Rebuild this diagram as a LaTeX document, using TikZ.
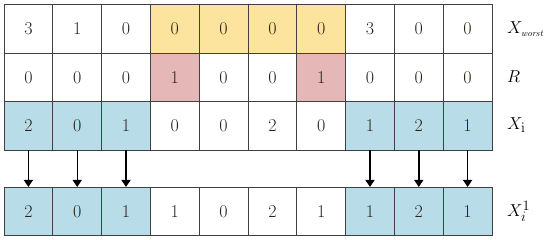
\documentclass[tikz,border=0pt]{standalone}
\usetikzlibrary{arrows.meta}
\definecolor{cyel}{HTML}{FDE49E}
\definecolor{cpink}{HTML}{E5B8B7}
\definecolor{cblue}{HTML}{B8DDE8}
\definecolor{ctext}{HTML}{2A2218}
\definecolor{cline}{HTML}{404040}
\begin{document}
\begin{tikzpicture}[x=1pt,y=-1pt,
  cell/.style={draw=cline, line width=0.8pt, anchor=north west, inner sep=0pt, outer sep=0pt,
    minimum width=48.8pt, minimum height=48.5pt, text=ctext, font=\fontsize{18}{20}\selectfont},
  lab/.style={anchor=west, inner sep=0pt, font=\fontsize{19}{21}\selectfont},
  arr/.style={line width=1.4pt, -{Triangle[width=9pt,length=7pt]}}]
\useasboundingbox (0,0) rectangle (550,240);
\foreach \v/\f [count=\i] in {3/white,1/white,0/white,0/cyel,0/cyel,0/cyel,0/cyel,3/white,0/white,0/white}
  \node[cell, fill=\f] (a\i) at ({4+48.8*(\i-1)},4.5) {\v};
\foreach \v/\f [count=\i] in {0/white,0/white,0/white,1/cpink,0/white,0/white,1/cpink,0/white,0/white,0/white}
  \node[cell, fill=\f] (b\i) at ({4+48.8*(\i-1)},53) {\v};
\foreach \v/\f [count=\i] in {2/cblue,0/cblue,1/cblue,0/white,0/white,2/white,0/white,1/cblue,2/cblue,1/cblue}
  \node[cell, fill=\f] (c\i) at ({4+48.8*(\i-1)},101.5) {\v};
\foreach \v/\f [count=\i] in {2/cblue,0/cblue,1/cblue,1/white,0/white,2/white,1/white,1/cblue,2/cblue,1/cblue}
  \node[cell, fill=\f] (d\i) at ({4+48.8*(\i-1)},187) {\v};
\foreach \k in {1,2,3,8,9,10}
  \draw[arr] (c\k.south) -- (d\k.north);
\node[lab] (lw) at (507,29) {$X_{\scriptscriptstyle\mathit{worst}}$};
\node[lab] (lr) at (507,77) {$R$};
\node[lab] (li) at (507,125) {$X_{\mathrm{i}}$};
\node[lab] (l1) at (507,211) {$X_i^1$};
\end{tikzpicture}
\end{document}
